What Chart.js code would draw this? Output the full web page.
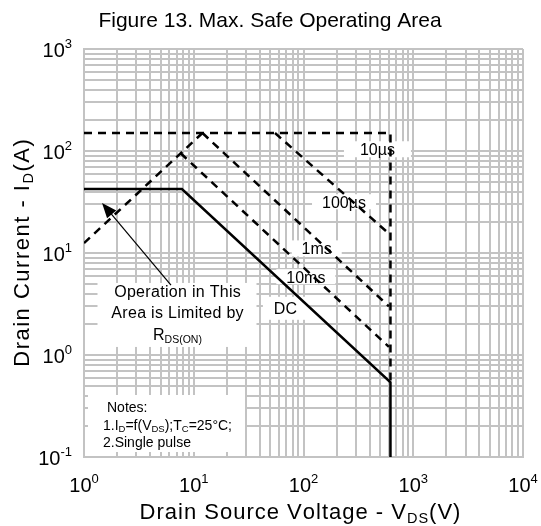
<!DOCTYPE html>
<html>
<head>
<meta charset="utf-8">
<script src="https://cdn.jsdelivr.net/npm/chart.js@4.4.0/dist/chart.umd.min.js"></script>
<style>
  html, body { margin: 0; padding: 0; background: #fff; }
  #wrap { width: 541px; height: 526px; position: relative; }
</style>
</head>
<body>
<div id="wrap"><canvas id="soaChart"></canvas></div>
<script>
// SOA limits: V in volts, I in amps
var rdsV = [1, 12];
var rdsI = [12.5, 150];
var us10V = [1, 620, 620];
var us10I = [150, 150, 0.55];
var us100V = [55, 600];
var us100I = [150, 15.5];
var ms1V = [12, 600];
var ms1I = [150, 3];
var ms10V = [7.6, 600];
var ms10I = [95, 1.2];
var dcV = [1, 7.8, 620, 620];
var dcI = [42.4, 42.4, 0.54, 0.1];

// decade exponents for the tick labels
var xTickExp = [0, 1, 2, 3, 4];
var yTickExp = [-1, 0, 1, 2, 3];

// curve labels: text, position (V, A), white box size
var curveLabels = [
    { text: '10\u00b5s', v: 472, i: 104, w: 67, h: 16 },
    { text: '100\u00b5s', v: 234, i: 31.8, w: 64, h: 15 },
    { text: '1ms', v: 132, i: 11.1, w: 50, h: 16 },
    { text: '10ms', v: 105, i: 5.86, w: 59, h: 15 },
    { text: 'DC', v: 68.4, i: 2.87, w: 45, h: 23 }
];

var FONT = '"Liberation Sans", Arial, sans-serif';

function pts(xs, ys) {
    return xs.map(function (x, k) { return { x: x, y: ys[k] }; });
}

function logTicks(min, max) { // 1..9 x 10^n grid lines
    var t = [];
    for (var e = Math.round(Math.log10(min)); e < Math.round(Math.log10(max)); e++) {
        for (var m = 1; m < 10; m++) t.push({ value: m * Math.pow(10, e) });
    }
    t.push({ value: max });
    return t;
}

// draw text runs (normal / sub / sup) as one piece, sp = extra letter spacing
function drawRuns(ctx, runs, x, y, align, sp) {
    sp = sp || 0;
    var total = 0;
    runs.forEach(function (r) {
        ctx.font = r.size + 'px ' + FONT;
        r.w = 0;
        for (var k = 0; k < r.t.length; k++) r.w += ctx.measureText(r.t[k]).width + sp;
        total += r.w;
    });
    total -= sp;
    var cx = align === 'center' ? x - total / 2 : (align === 'right' ? x - total : x);
    ctx.textAlign = 'left';
    ctx.textBaseline = 'alphabetic';
    runs.forEach(function (r) {
        ctx.font = r.size + 'px ' + FONT;
        if (!sp) {
            ctx.fillText(r.t, cx, y + (r.dy || 0));
            cx += r.w;
            return;
        }
        for (var k = 0; k < r.t.length; k++) {
            ctx.fillText(r.t[k], cx, y + (r.dy || 0));
            cx += ctx.measureText(r.t[k]).width + sp;
        }
    });
}

var decor = {
    id: 'decor',
    beforeDatasetsDraw: function (chart) {
        var ctx = chart.ctx, xs = chart.scales.x, ys = chart.scales.y, ca = chart.chartArea;
        ctx.save();
        ctx.fillStyle = '#fff';
        curveLabels.forEach(function (l) {
            var px = xs.getPixelForValue(l.v), py = ys.getPixelForValue(l.i);
            ctx.fillRect(px - l.w / 2, py - l.h / 2, l.w, l.h);
        });
        // "Operation in this area" box
        var ox = xs.getPixelForValue(7.11), oy = ys.getPixelForValue(2.47);
        ctx.fillRect(ox - 80, oy - 32, 159, 64);
        // notes box
        ctx.fillRect(ca.left + 4, ca.bottom - 62, 157, 57);

        ctx.fillStyle = '#000';
        curveLabels.forEach(function (l) {
            var px = xs.getPixelForValue(l.v), py = ys.getPixelForValue(l.i);
            drawRuns(ctx, [{ t: l.text, size: 16 }], px, py + 6, 'center');
        });
        drawRuns(ctx, [{ t: 'Operation in This', size: 16 }], ox, oy - 18, 'center', 0.3);
        drawRuns(ctx, [{ t: 'Area is Limited by', size: 16 }], ox, oy + 3, 'center', 0.3);
        drawRuns(ctx, [{ t: 'R', size: 16 }, { t: 'DS(ON)', size: 10.5, dy: 3 }], ox, oy + 25, 'center');

        var nx = ca.left + 19, ny = ca.bottom - 62;
        drawRuns(ctx, [{ t: 'Notes:', size: 14 }], nx + 4, ny + 17, 'left');
        drawRuns(ctx, [
            { t: '1.I', size: 14 }, { t: 'D', size: 9.5, dy: 2 }, { t: '=f(V', size: 14 },
            { t: 'DS', size: 9.5, dy: 2 }, { t: ');T', size: 14 }, { t: 'C', size: 9.5, dy: 2 },
            { t: '=25\u00b0C;', size: 14 }
        ], nx, ny + 35, 'left');
        drawRuns(ctx, [{ t: '2.Single pulse', size: 14 }], nx, ny + 52, 'left');

        // arrow pointing at the R_DS(on) limit
        var tx = xs.getPixelForValue(1.46), ty = ys.getPixelForValue(31);
        var sx = xs.getPixelForValue(6.2), sy = ys.getPixelForValue(4.85);
        var ang = Math.atan2(ty - sy, tx - sx);
        ctx.strokeStyle = '#000';
        ctx.lineWidth = 1.2;
        ctx.beginPath();
        ctx.moveTo(sx, sy);
        ctx.lineTo(tx - 10 * Math.cos(ang), ty - 10 * Math.sin(ang));
        ctx.stroke();
        ctx.beginPath();
        ctx.moveTo(tx, ty);
        ctx.lineTo(tx - 15 * Math.cos(ang) + 6 * Math.sin(ang), ty - 15 * Math.sin(ang) - 6 * Math.cos(ang));
        ctx.lineTo(tx - 15 * Math.cos(ang) - 6 * Math.sin(ang), ty - 15 * Math.sin(ang) + 6 * Math.cos(ang));
        ctx.closePath();
        ctx.fill();
        ctx.restore();
    },
    afterDraw: function (chart) {
        var ctx = chart.ctx, xs = chart.scales.x, ys = chart.scales.y, ca = chart.chartArea;
        ctx.save();
        ctx.fillStyle = '#000';
        drawRuns(ctx, [{ t: 'Figure 13. Max. Safe Operating Area', size: 21 }], 270, 27, 'center');

        xTickExp.forEach(function (e) {
            var px = xs.getPixelForValue(Math.pow(10, e));
            drawRuns(ctx, [{ t: '10', size: 20 }, { t: String(e), size: 13, dy: -9 }], px, ca.bottom + 35, 'center');
        });
        yTickExp.forEach(function (e) {
            var py = ys.getPixelForValue(Math.pow(10, e));
            drawRuns(ctx, [{ t: '10', size: 20 }, { t: String(e), size: 13, dy: -9 }], ca.left - 12, py + 8, 'right');
        });

        drawRuns(ctx, [{ t: 'Drain Source Voltage - V', size: 22 }, { t: 'DS', size: 14.5, dy: 4 }, { t: '(V)', size: 22 }],
            300, ca.bottom + 62, 'center', 1);

        ctx.translate(29, (ca.top + ca.bottom) / 2);
        ctx.rotate(-Math.PI / 2);
        drawRuns(ctx, [{ t: 'Drain Current - I', size: 22 }, { t: 'D', size: 14.5, dy: 4 }, { t: '(A)', size: 22 }],
            0, 0, 'center', 1.5);
        ctx.restore();
    }
};

var gridStyle = { color: '#c3c3c3', lineWidth: 2, drawTicks: false };
var borderStyle = { color: '#c3c3c3', width: 2 };

function ds(xs, ys, dashed) {
    return {
        data: pts(xs, ys),
        showLine: true,
        borderColor: '#000',
        borderWidth: 2.5,
        borderDash: dashed ? [8, 6] : [],
        pointRadius: 0,
        fill: false,
        tension: 0
    };
}

new Chart(document.getElementById('soaChart'), {
    type: 'scatter',
    data: {
        datasets: [
            ds(rdsV, rdsI, true),
            ds(us10V, us10I, true),
            ds(us100V, us100I, true),
            ds(ms1V, ms1I, true),
            ds(ms10V, ms10I, true),
            ds(dcV, dcI, false)
        ]
    },
    options: {
        responsive: true,
        maintainAspectRatio: false,
        animation: false,
        layout: { padding: { left: 84, right: 18, top: 49, bottom: 69 } },
        plugins: { legend: { display: false }, tooltip: { enabled: false } },
        scales: {
            x: {
                type: 'logarithmic', min: 1, max: 10000,
                grid: gridStyle, border: borderStyle,
                ticks: { display: false },
                afterBuildTicks: function (s) { s.ticks = logTicks(1, 10000); }
            },
            y: {
                type: 'logarithmic', min: 0.1, max: 1000,
                grid: gridStyle, border: borderStyle,
                ticks: { display: false },
                afterBuildTicks: function (s) { s.ticks = logTicks(0.1, 1000); }
            }
        }
    },
    plugins: [decor]
});
</script>
</body>
</html>
